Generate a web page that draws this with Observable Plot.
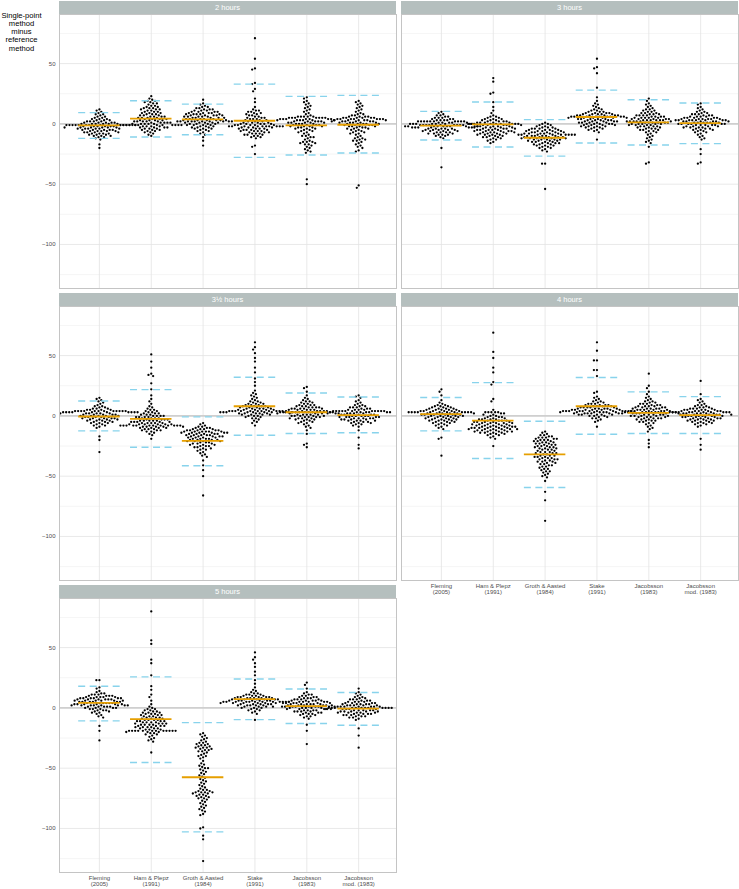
<!DOCTYPE html>
<html>
<head>
<meta charset="utf-8">
<script src="https://cdn.jsdelivr.net/npm/d3@7"></script>
<script src="https://cdn.jsdelivr.net/npm/@observablehq/plot@0.6"></script>
<style>
  html, body { margin: 0; padding: 0; background: #fff; }
  #root { position: relative; width: 739px; height: 889px; overflow: hidden; font-family: "Liberation Sans", Arial, sans-serif; }
  .strip { position: absolute; background: #b5bfbe; color: #fff; font-size: 7.5px; text-align: center; }
  .ytitle { position: absolute; left: 0; top: 11.5px; width: 43px; text-align: center; font-size: 7.6px; line-height: 8.3px; color: #000; }
  .panel { position: absolute; }
</style>
</head>
<body>
<div id="root"></div>
<script>
// ---------- categories / labels ----------
const methods = ["Fleming\n(2005)", "Ham & Plepz\n(1991)", "Groth & Aasted\n(1984)", "Stake\n(1991)", "Jacobsson\n(1983)", "Jacobsson\nmod. (1983)"];
const facetLabels = ["2 hours", "3 hours", "3½ hours", "4 hours", "5 hours"];
const yTicks = [-100, -50, 0, 50];
const yMinorTicks = [-125, -75, -25, 25, 75];

// ---------- 2 hours ----------
const h2_fleming = [12,11,10,9,8,8,7,6,6,5,5,4,4,4,3,3,3,2,2,2,2,1,1,1,1,1,0,0,0,0,0,0,-1,-1,-1,-1,-1,-1,-1,-1,-1,-1,-1,-1,-1,-1,-2,-2,-2,-2,-2,-2,-3,-3,-3,-3,-3,-3,-4,-4,-4,-4,-4,-4,-5,-5,-5,-5,-5,-6,-6,-6,-6,-6,-7,-7,-7,-7,-8,-8,-8,-8,-9,-9,-9,-10,-10,-10,-11,-11,-12,-13,-17,-20];
const h2_ham = [23,21,20,19,19,18,18,17,17,16,15,15,14,14,13,13,13,12,12,12,11,11,10,10,10,9,9,9,8,8,8,7,7,7,6,6,6,6,5,5,5,5,4,4,4,4,3,3,3,3,2,2,2,2,2,1,1,1,1,1,0,0,0,0,0,-1,-1,-1,-1,-1,-1,-1,-1,-1,-1,-1,-1,-2,-2,-2,-2,-3,-3,-3,-3,-4,-4,-4,-5,-5,-5,-6,-6,-7,-7,-8,-9,-10];
const h2_groth = [20,17,16,15,14,14,13,13,12,12,12,11,11,11,10,10,10,10,9,9,9,9,8,8,8,8,8,7,7,7,7,7,6,6,6,6,6,5,5,5,5,5,4,4,4,4,4,3,3,3,3,3,3,2,2,2,2,2,2,2,2,2,2,1,1,1,1,1,0,0,0,0,-1,-1,-1,-1,-2,-2,-2,-3,-3,-3,-4,-4,-4,-5,-5,-6,-6,-7,-8,-9,-11,-14,-18];
const h2_stake = [71,54,46,45,34,33,29,27,21,18,14,12,11,11,10,10,9,9,8,8,7,7,6,6,5,5,5,4,4,4,3,3,3,2,2,2,1,1,1,1,0,0,0,0,0,-1,-1,-1,-1,-1,-2,-2,-2,-2,-2,-2,-2,-2,-2,-2,-3,-3,-3,-3,-4,-4,-4,-4,-5,-5,-5,-5,-6,-6,-6,-6,-7,-7,-7,-8,-8,-8,-9,-9,-9,-10,-10,-11,-11,-12,-18,-19,-25];
const h2_jac = [22,21,19,18,17,16,15,14,13,12,11,10,9,8,7,6,6,6,6,6,5,5,5,5,5,5,5,4,4,4,4,4,4,4,3,3,3,3,3,3,2,2,2,2,2,1,1,1,1,1,0,0,0,0,-1,-1,-1,-1,-2,-2,-2,-2,-3,-3,-3,-4,-4,-4,-5,-5,-6,-6,-7,-7,-8,-9,-10,-10,-11,-11,-12,-13,-14,-15,-15,-15,-16,-16,-17,-17,-18,-19,-20,-21,-22,-23,-24,-46,-50];
const h2_jacm = [19,18,17,16,15,14,13,12,11,10,9,8,8,7,7,6,6,6,6,5,5,5,5,5,5,4,4,4,4,4,4,4,3,3,3,3,3,3,2,2,2,2,2,2,1,1,1,1,1,0,0,0,0,0,-1,-1,-1,-1,-2,-2,-2,-2,-3,-3,-3,-4,-4,-4,-5,-5,-6,-6,-7,-7,-8,-8,-9,-10,-11,-12,-12,-13,-13,-14,-14,-15,-16,-17,-18,-19,-20,-22,-23,-51,-53];
const h2_mean = [-1.2, 4.3, 3.7, 2.6, -1.2, -0.7];
const h2_upper = [9.3, 19.2, 16.4, 33, 22.8, 23.6];
const h2_lower = [-12, -10.9, -9, -27.8, -25.8, -24.2];

// ---------- 3 hours ----------
const h3_fleming = [10,9,8,7,7,6,6,5,5,5,4,4,4,3,3,3,3,2,2,2,2,2,2,2,2,2,2,1,1,1,1,1,0,0,0,0,0,0,0,0,-1,-1,-1,-1,-1,-1,-1,-1,-1,-2,-2,-2,-2,-2,-2,-2,-2,-2,-2,-3,-3,-3,-3,-3,-3,-4,-4,-4,-4,-4,-5,-5,-5,-5,-5,-6,-6,-6,-6,-7,-7,-7,-7,-8,-8,-8,-9,-9,-9,-10,-10,-11,-12,-20,-36];
const h3_ham = [38,35,26,25,18,14,11,9,7,6,6,5,5,4,4,4,3,3,3,2,2,2,2,1,1,1,1,1,0,0,0,0,0,0,0,0,0,-1,-1,-1,-1,-1,-2,-2,-2,-2,-2,-3,-3,-3,-3,-3,-4,-4,-4,-4,-4,-5,-5,-5,-5,-5,-6,-6,-6,-6,-6,-7,-7,-7,-7,-7,-8,-8,-8,-8,-9,-9,-9,-9,-10,-10,-10,-11,-11,-11,-12,-12,-13,-13,-14,-15,-16];
const h3_groth = [1,0,0,-1,-1,-2,-2,-3,-3,-3,-4,-4,-4,-4,-5,-5,-5,-5,-6,-6,-6,-6,-6,-7,-7,-7,-7,-7,-8,-8,-8,-8,-8,-8,-9,-9,-9,-9,-9,-9,-9,-9,-9,-10,-10,-10,-10,-10,-10,-11,-11,-11,-11,-11,-12,-12,-12,-12,-12,-12,-13,-13,-13,-13,-13,-14,-14,-14,-14,-15,-15,-15,-15,-16,-16,-16,-16,-17,-17,-17,-18,-18,-18,-19,-19,-20,-20,-21,-22,-23,-33,-33,-54];
const h3_stake = [54,47,46,42,30,22,19,17,16,15,14,13,12,12,11,11,10,10,10,9,9,9,9,8,8,8,8,8,7,7,7,7,7,7,6,6,6,6,6,6,6,6,6,5,5,5,5,5,5,4,4,4,4,4,3,3,3,3,3,2,2,2,2,2,1,1,1,1,1,0,0,0,0,0,-1,-1,-1,-1,-2,-2,-2,-2,-3,-3,-3,-4,-4,-5,-5,-6,-7,-13];
const h3_jac = [21,19,17,16,15,14,13,12,12,11,11,10,10,9,9,9,8,8,8,7,7,7,7,6,6,6,6,5,5,5,5,5,4,4,4,4,4,3,3,3,3,3,3,2,2,2,2,2,2,1,1,1,1,1,1,0,0,0,0,0,-1,-1,-1,-1,-2,-2,-2,-2,-3,-3,-3,-4,-4,-4,-5,-5,-5,-6,-6,-7,-7,-8,-9,-10,-11,-12,-13,-14,-15,-16,-19,-32,-33];
const h3_jacm = [17,16,14,13,12,11,10,10,9,9,8,8,8,7,7,7,6,6,6,6,5,5,5,5,5,4,4,4,4,4,4,3,3,3,3,3,3,3,3,2,2,2,2,2,2,1,1,1,1,1,1,0,0,0,0,0,0,-1,-1,-1,-1,-1,-2,-2,-2,-2,-3,-3,-3,-3,-4,-4,-4,-5,-5,-5,-6,-6,-7,-7,-8,-9,-10,-11,-12,-13,-21,-25,-32,-33];
const h3_mean = [-1.5, -0.4, -11.5, 5.7, 1.2, 0.7];
const h3_upper = [10.4, 18.1, 3.5, 28, 20, 17.3];
const h3_lower = [-13.4, -19.2, -26.7, -15.9, -17.5, -16.4];

// ---------- 3½ hours ----------
const h35_fleming = [15,14,13,12,11,10,9,8,8,7,7,6,6,6,5,5,5,5,4,4,4,4,4,4,4,4,4,4,4,4,3,3,3,3,3,3,3,3,3,3,2,2,2,2,2,2,1,1,1,1,1,0,0,0,0,0,-1,-1,-1,-1,-1,-2,-2,-2,-2,-2,-3,-3,-3,-3,-4,-4,-4,-4,-5,-5,-5,-6,-6,-6,-7,-7,-8,-8,-9,-10,-17,-20,-30];
const h35_ham = [51,45,40,35,34,33,27,22,17,14,12,10,8,7,6,5,5,4,4,3,3,2,2,2,1,1,1,0,0,0,0,-1,-1,-1,-1,-2,-2,-2,-2,-3,-3,-3,-3,-4,-4,-4,-4,-4,-5,-5,-5,-5,-5,-6,-6,-6,-6,-6,-7,-7,-7,-7,-7,-7,-8,-8,-8,-8,-8,-8,-8,-8,-8,-8,-8,-8,-9,-9,-9,-9,-9,-10,-10,-10,-10,-11,-11,-11,-12,-12,-12,-13,-13,-14,-15,-16,-19];
const h35_groth = [-6,-7,-8,-9,-9,-10,-10,-10,-11,-11,-11,-11,-12,-12,-12,-12,-12,-13,-13,-13,-13,-13,-13,-14,-14,-14,-14,-14,-14,-15,-15,-15,-15,-15,-16,-16,-16,-16,-16,-17,-17,-17,-17,-17,-18,-18,-18,-18,-19,-19,-19,-19,-20,-20,-20,-20,-21,-21,-21,-21,-22,-22,-22,-23,-23,-23,-24,-24,-24,-25,-25,-25,-26,-26,-27,-27,-28,-28,-29,-30,-31,-32,-33,-34,-37,-41,-45,-50,-66];
const h35_stake = [61,57,55,52,48,45,40,36,31,28,25,21,19,18,17,16,15,14,13,12,12,11,11,10,10,10,9,9,9,8,8,8,8,7,7,7,7,6,6,6,6,6,5,5,5,5,5,4,4,4,4,4,4,4,4,4,4,4,3,3,3,3,3,3,3,3,3,3,2,2,2,2,2,1,1,1,1,0,0,0,-1,-1,-2,-2,-3,-4,-5,-6,-8];
const h35_jac = [24,23,20,17,15,14,13,12,12,11,11,10,10,9,9,9,8,8,8,7,7,7,7,6,6,6,6,6,5,5,5,5,5,4,4,4,4,4,4,3,3,3,3,3,3,3,3,3,3,2,2,2,2,2,2,1,1,1,1,1,0,0,0,0,0,-1,-1,-1,-1,-2,-2,-2,-2,-3,-3,-3,-4,-4,-5,-5,-6,-6,-7,-8,-9,-10,-12,-15,-23,-24,-26];
const h35_jacm = [17,16,15,13,12,11,10,9,9,8,8,7,7,7,6,6,6,5,5,5,5,4,4,4,4,4,4,4,4,4,4,4,3,3,3,3,3,3,3,2,2,2,2,2,1,1,1,1,1,0,0,0,0,0,-1,-1,-1,-1,-1,-2,-2,-2,-2,-2,-3,-3,-3,-3,-4,-4,-4,-4,-5,-5,-5,-6,-6,-6,-7,-7,-8,-9,-12,-18,-24,-27];
const h35_mean = [-0.5, -2.5, -20.7, 8, 3, 0.6];
const h35_upper = [12.4, 21.8, -0.8, 32, 19, 15.7];
const h35_lower = [-12.4, -26, -41.4, -16, -14.6, -14];

// ---------- 4 hours ----------
const h4_fleming = [22,20,17,13,11,10,9,9,8,8,8,7,7,7,6,6,6,6,5,5,5,5,5,4,4,4,4,4,4,3,3,3,3,3,3,3,3,3,3,3,3,2,2,2,2,2,2,1,1,1,1,1,1,0,0,0,0,0,-1,-1,-1,-1,-1,-2,-2,-2,-2,-3,-3,-3,-3,-4,-4,-4,-4,-5,-5,-5,-6,-6,-6,-7,-7,-8,-8,-9,-10,-11,-18,-19,-33];
const h4_ham = [69,53,48,40,36,28,26,14,12,5,3,3,3,3,3,2,2,1,1,0,0,-1,-1,-1,-2,-2,-2,-3,-3,-3,-3,-4,-4,-4,-4,-5,-5,-5,-5,-5,-6,-6,-6,-6,-6,-7,-7,-7,-7,-7,-8,-8,-8,-8,-8,-9,-9,-9,-9,-9,-9,-10,-10,-10,-10,-10,-10,-11,-11,-11,-11,-11,-11,-12,-12,-12,-12,-12,-13,-13,-13,-13,-13,-14,-14,-14,-14,-15,-15,-15,-16,-16,-17,-18,-19,-25];
const h4_groth = [-13,-14,-15,-16,-16,-17,-17,-18,-18,-18,-19,-19,-19,-20,-20,-20,-21,-21,-21,-22,-22,-22,-23,-23,-23,-24,-24,-24,-25,-25,-25,-26,-26,-26,-27,-27,-27,-28,-28,-28,-29,-29,-30,-30,-30,-31,-31,-31,-32,-32,-33,-33,-33,-34,-34,-34,-35,-35,-35,-36,-36,-36,-37,-37,-38,-38,-38,-39,-39,-40,-40,-41,-41,-42,-42,-43,-44,-44,-45,-46,-46,-47,-48,-49,-50,-51,-54,-63,-70,-87];
const h4_stake = [61,54,46,46,38,38,33,20,19,16,15,14,13,12,12,11,11,10,10,10,9,9,9,9,8,8,8,8,7,7,7,7,7,6,6,6,6,6,6,5,5,5,5,5,5,5,4,4,4,4,4,4,4,4,4,4,4,4,3,3,3,3,3,3,3,3,2,2,2,2,2,2,1,1,1,1,1,0,0,0,-1,-1,-2,-2,-3,-4,-5,-9];
const h4_jac = [35,25,23,20,18,16,15,14,13,12,12,11,11,10,10,10,9,9,9,8,8,8,8,7,7,7,7,6,6,6,6,6,5,5,5,5,5,4,4,4,4,4,4,3,3,3,3,3,3,3,3,3,2,2,2,2,2,2,1,1,1,1,1,0,0,0,0,0,-1,-1,-1,-1,-2,-2,-2,-2,-3,-3,-3,-4,-4,-4,-5,-5,-6,-6,-7,-8,-9,-10,-11,-13,-20,-23,-26];
const h4_jacm = [29,18,14,13,12,11,10,9,9,8,8,7,7,7,6,6,6,6,5,5,5,5,5,4,4,4,4,4,4,3,3,3,3,3,3,3,3,3,3,3,2,2,2,2,2,2,1,1,1,1,1,1,0,0,0,0,0,0,-1,-1,-1,-1,-1,-2,-2,-2,-2,-2,-3,-3,-3,-3,-4,-4,-4,-4,-5,-5,-5,-6,-6,-6,-7,-7,-8,-9,-19,-24,-28];
const h4_mean = [1.4, -3.9, -32, 8, 2.5, 0.6];
const h4_upper = [15.2, 27.6, -4.4, 31.8, 19.9, 16];
const h4_lower = [-12.4, -35.4, -59.4, -15.2, -14.6, -14.6];

// ---------- 5 hours ----------
const h5_fleming = [23,23,17,16,14,13,12,12,11,11,11,10,10,10,10,9,9,9,9,9,8,8,8,8,8,8,7,7,7,7,7,7,6,6,6,6,6,6,5,5,5,5,5,5,4,4,4,4,4,4,3,3,3,3,3,3,2,2,2,2,2,2,2,2,1,1,1,1,1,0,0,0,0,-1,-1,-1,-2,-2,-2,-3,-3,-4,-4,-5,-6,-7,-8,-15,-19,-27];
const h5_ham = [80,56,53,40,37,27,18,15,11,9,6,3,1,0,-1,-1,-2,-2,-3,-3,-4,-4,-4,-5,-5,-5,-6,-6,-6,-7,-7,-7,-8,-8,-8,-9,-9,-9,-10,-10,-10,-10,-11,-11,-11,-11,-12,-12,-12,-12,-13,-13,-13,-13,-14,-14,-14,-14,-15,-15,-15,-15,-16,-16,-16,-16,-17,-17,-17,-18,-18,-18,-19,-19,-19,-19,-19,-19,-19,-19,-19,-19,-19,-19,-20,-20,-20,-21,-21,-22,-22,-23,-24,-25,-26,-27,-28,-37];
const h5_groth = [-21,-22,-23,-24,-25,-26,-27,-28,-29,-29,-30,-30,-31,-31,-32,-32,-33,-33,-33,-34,-34,-35,-35,-36,-36,-37,-38,-39,-40,-40,-41,-42,-44,-46,-47,-48,-49,-50,-50,-51,-52,-53,-54,-55,-56,-57,-58,-59,-60,-61,-62,-63,-64,-65,-66,-67,-68,-68,-69,-69,-70,-70,-70,-70,-71,-71,-72,-72,-73,-73,-74,-74,-75,-75,-76,-77,-78,-79,-80,-81,-82,-83,-84,-85,-86,-88,-89,-99,-100,-106,-109,-127];
const h5_stake = [46,42,40,37,34,30,27,23,20,17,15,14,13,12,12,11,11,11,10,10,10,10,9,9,9,9,9,8,8,8,8,8,8,7,7,7,7,7,7,6,6,6,6,6,6,6,5,5,5,5,5,5,5,5,5,5,5,5,4,4,4,4,4,4,3,3,3,3,3,2,2,2,2,2,1,1,1,1,0,0,0,-1,-1,-2,-2,-3,-4,-5,-10];
const h5_jac = [21,19,16,13,12,11,11,10,10,9,9,9,8,8,8,7,7,7,7,6,6,6,6,6,5,5,5,5,5,5,4,4,4,4,4,4,3,3,3,3,3,3,2,2,2,2,2,2,1,1,1,1,1,1,1,1,1,0,0,0,0,0,-1,-1,-1,-1,-1,-2,-2,-2,-2,-3,-3,-3,-3,-4,-4,-4,-5,-5,-5,-6,-6,-7,-7,-8,-9,-14,-19,-30];
const h5_jacm = [16,13,12,11,10,9,9,8,8,7,7,7,6,6,6,5,5,5,5,4,4,4,4,3,3,3,3,3,2,2,2,2,2,1,1,1,1,1,1,1,0,0,0,0,0,0,0,0,0,0,0,0,-1,-1,-1,-1,-1,-2,-2,-2,-2,-2,-3,-3,-3,-3,-3,-4,-4,-4,-4,-4,-5,-5,-5,-5,-6,-6,-6,-6,-7,-7,-7,-8,-8,-9,-10,-17,-23,-33];
const h5_mean = [4.1, -9.4, -57.5, 7.2, 1.4, -0.6];
const h5_upper = [18, 25.7, -12.2, 24, 15.7, 12.7];
const h5_lower = [-10.8, -45.3, -102.8, -9.7, -13, -14.4];

// ---------- assemble ----------
const facets = [
  {label: facetLabels[0], groups: [h2_fleming, h2_ham, h2_groth, h2_stake, h2_jac, h2_jacm], mean: h2_mean, upper: h2_upper, lower: h2_lower},
  {label: facetLabels[1], groups: [h3_fleming, h3_ham, h3_groth, h3_stake, h3_jac, h3_jacm], mean: h3_mean, upper: h3_upper, lower: h3_lower},
  {label: facetLabels[2], groups: [h35_fleming, h35_ham, h35_groth, h35_stake, h35_jac, h35_jacm], mean: h35_mean, upper: h35_upper, lower: h35_lower},
  {label: facetLabels[3], groups: [h4_fleming, h4_ham, h4_groth, h4_stake, h4_jac, h4_jacm], mean: h4_mean, upper: h4_upper, lower: h4_lower},
  {label: facetLabels[4], groups: [h5_fleming, h5_ham, h5_groth, h5_stake, h5_jac, h5_jacm], mean: h5_mean, upper: h5_upper, lower: h5_lower}
];

// layout (panel boxes)
const PW = 337, PH = 274, STRIP = 13.5;
const colLeft = [59, 401];
const rowTop = [14, 306, 598];
const xDomain = [-0.77, 5.73];
const yDomain = [-136.5, 90.7];
const pxPerUnit = PW / (xDomain[1] - xDomain[0]);
const DOT_D = 3.05;

// beeswarm layout: horizontal pixel offsets so that dots don't overlap
function swarm(values, yPix) {
  const pts = values.map(v => ({v, py: yPix(v), ox: 0}));
  const order = pts.slice().sort((a, b) => a.py - b.py);
  const placed = [];
  const d2 = DOT_D * DOT_D;
  for (const p of order) {
    const near = placed.filter(q => Math.abs(q.py - p.py) < DOT_D);
    const cands = [0];
    for (const q of near) {
      const dx = Math.sqrt(d2 - (q.py - p.py) ** 2);
      cands.push(q.ox + dx, q.ox - dx);
    }
    cands.sort((a, b) => Math.abs(a) - Math.abs(b) || a - b);
    for (const c of cands) {
      if (near.every(q => (q.ox - c) ** 2 + (q.py - p.py) ** 2 >= d2 - 1e-6)) { p.ox = c; break; }
    }
    placed.push(p);
  }
  return pts;
}

const root = document.getElementById("root");
const yt = document.createElement("div");
yt.className = "ytitle";
yt.innerHTML = "Single-point<br>method<br>minus<br>reference<br>method";
root.appendChild(yt);

facets.forEach((f, i) => {
  const col = i % 2, row = Math.floor(i / 2);
  const showY = col === 0;
  const showX = i === 3 || i === 4;
  const yPix = d3.scaleLinear().domain(yDomain).range([PH, 0]);

  const points = [];
  f.groups.forEach((vals, m) => {
    for (const p of swarm(vals, yPix)) points.push({x: m + p.ox / pxPerUnit, y: p.v});
  });
  const stats = f.mean.map((mv, m) => ({m, mean: mv, up: f.upper[m], lo: f.lower[m]}));

  const marginLeft = showY ? colLeft[0] : 0;
  const marginBottom = showX ? 16 : 0;

  const chart = Plot.plot({
    width: PW + marginLeft,
    height: PH + marginBottom,
    marginLeft, marginRight: 0, marginTop: 0, marginBottom,
    style: {fontFamily: '"Liberation Sans", Arial, sans-serif', fontSize: "6px", color: "#4d4d4d", background: "transparent", overflow: "visible"},
    x: {domain: xDomain, axis: null},
    y: {domain: yDomain, axis: null},
    marks: [
      Plot.gridY(yMinorTicks, {stroke: "#efefef", strokeOpacity: 1, strokeWidth: 0.6}),
      Plot.gridY(yTicks, {stroke: "#e3e3e3", strokeOpacity: 1, strokeWidth: 0.8}),
      Plot.gridX(d3.range(methods.length), {stroke: "#e3e3e3", strokeOpacity: 1, strokeWidth: 0.8}),
      Plot.ruleY([0], {stroke: "#cfcfcf", strokeWidth: 1.8}),
      Plot.dot(points, {x: "x", y: "y", r: 1.15, fill: "#000", stroke: "none", clip: true}),
      Plot.ruleY(stats, {y: "mean", x1: d => d.m - 0.4, x2: d => d.m + 0.4, stroke: "#e69f00", strokeWidth: 1.8}),
      Plot.ruleY(stats, {y: "up", x1: d => d.m - 0.4, x2: d => d.m + 0.4, stroke: "#88d3ec", strokeWidth: 1.4, strokeDasharray: "7,4.5"}),
      Plot.ruleY(stats, {y: "lo", x1: d => d.m - 0.4, x2: d => d.m + 0.4, stroke: "#88d3ec", strokeWidth: 1.4, strokeDasharray: "7,4.5"}),
      Plot.frame({stroke: "#c4c4c4", strokeWidth: 1}),
      showY ? Plot.axisY(yTicks, {tickSize: 0, tickPadding: 4, fill: "#4d4d4d", label: null}) : null,
      showX ? Plot.axisX(d3.range(methods.length), {tickSize: 0, tickPadding: 3, tickFormat: k => methods[k], lineHeight: 1.05, fill: "#4d4d4d", label: null}) : null
    ]
  });

  const wrap = document.createElement("div");
  wrap.className = "panel";
  wrap.style.left = (colLeft[col] - marginLeft) + "px";
  wrap.style.top = rowTop[row] + "px";
  wrap.appendChild(chart);
  root.appendChild(wrap);

  const strip = document.createElement("div");
  strip.className = "strip";
  strip.style.left = colLeft[col] + "px";
  strip.style.top = (rowTop[row] - STRIP) + "px";
  strip.style.width = PW + "px";
  strip.style.height = STRIP + "px";
  strip.style.lineHeight = STRIP + "px";
  strip.textContent = f.label;
  root.appendChild(strip);
});
</script>
</body>
</html>
